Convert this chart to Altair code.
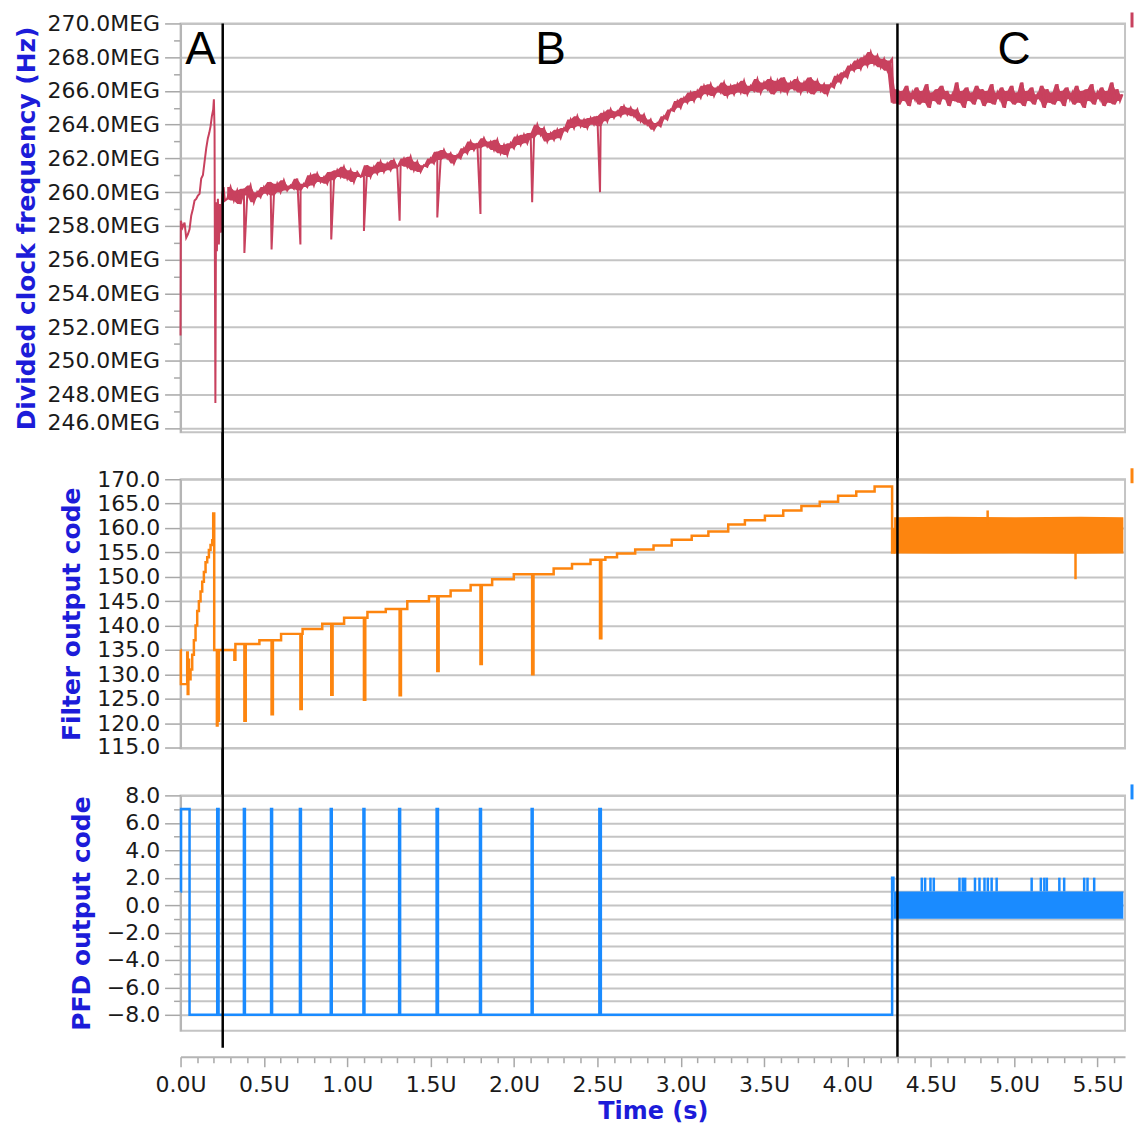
import altair as alt
import pandas as pd

# ---------------- data ----------------
region_t = [0.253, 4.30]                 # black separators between A/B/C
letters = ["A", "B", "C"]
letters_t = [0.12, 2.22, 5.0]
letters_v = [267.6, 267.6, 267.6]

# common re-lock spike times (U = microseconds)
spike_t = [0.383, 0.546, 0.719, 0.904, 1.100, 1.314, 1.540, 1.799, 2.109, 2.516]
red_dip_v = [256.4, 256.6, 256.9, 257.2, 257.7, 258.3, 258.5, 258.7, 259.4, 260.0]

# Divided clock frequency (MHz) -- region A
red_a_t = [0.000, 0.002, 0.012, 0.024, 0.034, 0.044, 0.054, 0.064, 0.074, 0.084,
           0.094, 0.104, 0.114, 0.124, 0.134, 0.144, 0.154, 0.164, 0.172, 0.180,
           0.188, 0.196, 0.200, 0.204, 0.206, 0.209, 0.213, 0.218, 0.224, 0.230,
           0.236, 0.242, 0.250, 0.258, 0.266]
red_a_v = [251.5, 258.3, 257.9, 258.2, 257.3, 257.5, 257.8, 258.6, 259.0, 259.5,
           259.6, 259.8, 259.9, 260.8, 261.0, 261.8, 262.6, 263.2, 263.5, 263.9,
           264.5, 264.9, 265.5, 263.7, 256.0, 247.5, 259.4, 256.5, 259.6, 256.9,
           259.3, 257.6, 259.9, 260.3, 259.5]
# region B, sampled every 0.02U from 0.28U
red_b_t0, red_b_dt = 0.28, 0.02
red_b_v = [259.6, 260.3, 259.5, 260.1, 259.3, 260.2, 259.8, 260.4, 259.4, 260.0,
           259.7, 260.3, 259.9, 260.6, 259.8, 260.5, 260.0, 260.7, 260.1, 260.4,
           260.2, 260.8, 260.1, 260.5, 260.3, 261.0, 260.4, 261.1, 260.6, 260.9,
           260.5, 261.2, 260.7, 261.3, 260.9, 261.5, 260.8, 261.3, 260.6, 261.2,
           260.9, 261.0, 261.6, 260.9, 261.5, 261.1, 261.8, 261.2, 261.7, 261.3,
           261.9, 261.4, 261.6, 262.0, 261.5, 262.1, 261.3, 261.8, 261.2, 261.6,
           261.5, 262.0, 261.7, 262.4, 261.9, 262.5, 262.0, 262.3, 261.7, 262.2,
           262.0, 262.6, 262.3, 263.0, 262.5, 262.9, 262.6, 263.2, 262.7, 263.0,
           262.5, 263.1, 262.3, 262.8, 262.2, 262.9, 262.6, 263.3, 262.8, 263.4,
           262.9, 263.5, 263.2, 264.0, 263.4, 263.8, 263.0, 263.5, 263.1, 263.7,
           263.2, 263.8, 263.6, 264.3, 263.8, 264.5, 263.9, 264.3, 263.8, 264.4,
           264.0, 264.5, 263.9, 264.7, 264.2, 264.9, 264.4, 264.8, 264.5, 265.1,
           264.6, 265.0, 264.5, 264.9, 264.2, 264.6, 264.0, 264.3, 263.7, 264.1,
           263.9, 264.5, 264.3, 264.9, 264.8, 265.4, 265.0, 265.6, 265.3, 265.9,
           265.4, 266.0, 265.6, 266.3, 265.8, 266.4, 265.7, 266.2, 265.9, 266.5,
           265.7, 266.3, 265.8, 266.4, 265.9, 266.6, 265.8, 266.3, 266.0, 266.7,
           265.9, 266.5, 266.1, 266.7, 265.8, 266.6, 266.0, 266.8, 265.9, 266.5,
           266.1, 266.7, 265.9, 266.5, 266.0, 266.8, 265.8, 266.6, 266.0, 266.4,
           265.8, 266.4, 266.2, 266.9, 266.5, 267.1, 266.8, 267.5, 267.2, 267.8,
           267.3, 268.0, 267.5, 268.3, 267.6, 268.1, 267.4, 267.9, 267.2, 267.8]
red_tail_t = [4.268, 4.276]
red_tail_v = [267.9, 265.3]
# region C, sampled every 0.015U from 4.285U
red_c_t0, red_c_dt = 4.285, 0.015
red_c_v = [265.3, 266.1, 265.2, 266.0, 265.4, 266.3, 265.1, 265.9, 265.5, 266.2,
           265.2, 266.0, 265.3, 266.4, 265.0, 265.9, 265.4, 266.1, 265.2, 266.3,
           265.5, 266.0, 265.1, 265.8, 265.4, 266.5, 265.3, 266.0, 265.0, 266.2,
           265.4, 265.9, 265.2, 266.3, 265.5, 266.1, 265.1, 266.0, 265.3, 266.4,
           265.2, 265.9, 265.5, 266.2, 265.0, 266.0, 265.4, 266.3, 265.2, 265.9,
           265.3, 266.5, 265.1, 266.0, 265.4, 266.2, 265.2, 265.8, 265.5, 266.3,
           265.0, 266.1, 265.3, 265.9, 265.2, 266.4, 265.4, 266.0, 265.1, 266.2,
           265.5, 265.9, 265.2, 266.3, 265.3, 266.0, 265.0, 266.1, 265.4, 266.4,
           265.2, 265.9, 265.5, 266.2, 265.1, 266.0, 265.3, 266.5, 265.2, 266.1,
           265.4, 265.8]

# Filter output code (step-after samples)
orange_t = [0.000, 0.002, 0.040, 0.043, 0.047, 0.051, 0.060, 0.070, 0.080, 0.090,
            0.100, 0.110, 0.120, 0.130, 0.140, 0.150, 0.160, 0.170, 0.180, 0.190,
            0.196, 0.202, 0.218, 0.222, 0.226, 0.230,
            0.323, 0.329, 0.383, 0.391, 0.473, 0.546, 0.554, 0.603, 0.719, 0.727,
            0.732, 0.850, 0.904, 0.912, 0.981, 1.100, 1.108, 1.121, 1.231, 1.314,
            1.322, 1.360, 1.490, 1.540, 1.548, 1.620, 1.740, 1.799, 1.807, 1.869,
            1.999, 2.109, 2.117, 2.238, 2.348, 2.459, 2.516, 2.524, 2.548, 2.618,
            2.727, 2.837, 2.946, 3.066, 3.166, 3.285, 3.385, 3.505, 3.615, 3.724,
            3.834, 3.944, 4.053, 4.163, 4.268, 4.280]
orange_v = [135, 128, 134.5, 126, 133, 129, 131, 134, 137, 140,
            143, 145, 147, 149, 151, 153, 154, 155.5, 156.5, 157.5,
            163, 135, 119.5, 135, 120.5, 135,
            133, 136.2, 120.5, 136.2, 137.0, 121.8, 137.0, 138.3, 122.9, 138.3,
            139.3, 140.4, 125.8, 140.4, 141.6, 124.8, 141.6, 142.8, 143.4, 125.7,
            143.4, 145.0, 146.0, 130.7, 146.0, 147.2, 148.3, 132.1, 148.3, 149.5,
            150.5, 130.0, 150.5, 151.7, 152.6, 153.5, 137.4, 153.5, 154.0, 154.8,
            155.6, 156.4, 157.6, 158.4, 159.3, 160.7, 161.6, 162.5, 163.6, 164.5,
            165.4, 166.6, 167.5, 168.5, 155.0, 160.0]
orange_band_t = [4.280, 4.600, 5.000, 5.400, 5.655]
orange_band_lo = [154.8, 154.7, 154.8, 154.7, 154.8]
orange_band_hi = [162.2, 162.3, 162.2, 162.3, 162.2]
orange_c_spike_t = [4.841, 5.368]
orange_c_spike_from = [161.0, 155.0]
orange_c_spike_to = [163.6, 149.5]

# PFD output code (step-after samples)
blue_t = [0.000, 0.003, 0.054, 0.220, 0.228, 0.380, 0.386, 0.543, 0.549, 0.716,
          0.722, 0.901, 0.907, 1.097, 1.103, 1.311, 1.317, 1.536, 1.544, 1.796,
          1.802, 2.106, 2.112, 2.512, 2.521, 4.268, 4.276]
blue_v = [1, 7, -8, 7, -8, 7, -8, 7, -8, 7,
          -8, 7, -8, 7, -8, 7, -8, 7, -8, 7,
          -8, 7, -8, 7, -8, 2, 1]
blue_band_t = [4.276, 5.655]
blue_band_lo = [-1.0, -1.0]
blue_band_hi = [1.0, 1.0]
blue_up_t = [4.446, 4.466, 4.498, 4.518, 4.672, 4.692, 4.706, 4.765, 4.792, 4.822,
             4.842, 4.865, 4.895, 5.105, 5.160, 5.181, 5.196, 5.271, 5.300, 5.420,
             5.440, 5.480]

# axis tick values
x_ticks = [round(i * 0.1, 1) for i in range(57)]
y1_ticks = list(range(246, 271))
y2_ticks = [115, 120, 125, 130, 135, 140, 145, 150, 155, 160, 165, 170]
y3_ticks = list(range(-8, 9))

# ---------------- styling ----------------
RED, ORANGE, BLUE = "#c8415e", "#fd850f", "#1a8bff"
TBLUE = "#1c1cd9"
GRID = "#c4c4c4"
FONT = "DejaVu Sans"
W, H1, H2, H3 = 947, 410, 270, 236
XMAX = 5.665

xscale = alt.Scale(domain=[0, XMAX], nice=False, zero=False)
half = "abs(datum.value*2 - round(datum.value*2)) < 0.001"

panel_xaxis = alt.Axis(
    values=x_ticks, tickCount=500, labels=False, title=None, orient="bottom",
    grid=True, gridColor=GRID, gridWidth=2,
    gridOpacity={"condition": {"test": half, "value": 1}, "value": 0},
    tickSize={"condition": {"test": half, "value": 7}, "value": 4},
    tickColor="#a8a8a8", tickWidth=1.5, domainColor="#b5b5b5", domainWidth=2,
)
time_axis = alt.Axis(
    values=x_ticks, tickCount=500, orient="bottom", offset=26, grid=False,
    labelExpr="(abs(datum.value*2 - round(datum.value*2)) < 0.001) ? format(datum.value, '.1f') + 'U' : ''",
    labelFont=FONT, labelFontSize=22, labelColor="#1a1a1a", labelPadding=8,
    labelFlush=False, labelOverlap=False,
    tickSize={"condition": {"test": half, "value": 10}, "value": 6},
    tickColor="#a8a8a8", tickWidth=1.5, domainColor="#b5b5b5", domainWidth=2,
    title="Time (s)", titleFont=FONT, titleFontSize=24, titleFontWeight="bold",
    titleColor=TBLUE, titlePadding=4,
)


def yaxis(title, values, label_expr, grid_test, major_test, offset_test, title_pad):
    return alt.Axis(
        values=values, tickCount=500, title=title, titleFont=FONT, titleFontSize=25,
        titleFontWeight="bold", titleColor=TBLUE, titlePadding=title_pad,
        labelExpr=label_expr, labelFont=FONT, labelFontSize=22,
        labelColor="#1a1a1a", labelPadding=5, labelOverlap=False,
        labelOffset={"condition": {"test": offset_test[0], "value": offset_test[1]}, "value": 0},
        grid=True, gridColor=GRID, gridWidth=2,
        gridOpacity={"condition": {"test": grid_test, "value": 1}, "value": 0},
        tickSize={"condition": {"test": major_test, "value": 16}, "value": 7},
        tickColor="#a8a8a8", tickWidth=1.5, domainColor="#b5b5b5", domainWidth=2,
    )


y1_axis = yaxis("Divided clock frequency (Hz)", y1_ticks,
                "datum.value % 2 == 0 ? format(datum.value, '.1f') + 'MEG' : ''",
                "datum.value % 2 == 0", "datum.value % 2 == 0",
                ("datum.value == 246", -6), 8)
y2_axis = yaxis("Filter output code", y2_ticks,
                "format(datum.value, '.1f')",
                "true", "true", ("datum.value == 115", -1), 12)
y3_axis = yaxis("PFD output code", y3_ticks,
                "datum.value % 2 == 0 ? format(datum.value, '.1f') : ''",
                "true", "datum.value % 2 == 0", ("false", 0), 12)

y1_scale = alt.Scale(domain=[245.76, 270], nice=False, zero=False)
y2_scale = alt.Scale(domain=[114.8, 170], nice=False, zero=False)
y3_scale = alt.Scale(domain=[-9.16, 8], nice=False, zero=False)

# ---------------- tables ----------------
red_b_rows = [(round(red_b_t0 + i * red_b_dt, 4), v) for i, v in enumerate(red_b_v)]
red_c_rows = [(round(red_c_t0 + i * red_c_dt, 4), v) for i, v in enumerate(red_c_v)]
red_rows = list(zip(red_a_t, red_a_v)) + red_b_rows + list(zip(spike_t, red_dip_v))
red_rows += list(zip(red_tail_t, red_tail_v)) + red_c_rows
red_df = pd.DataFrame(red_rows, columns=["t", "v"]).sort_values("t").reset_index(drop=True)
red_env_df = pd.DataFrame(red_b_rows + red_c_rows, columns=["t", "v"])

orange_df = pd.DataFrame({"t": orange_t, "v": orange_v})
orange_band_df = pd.DataFrame({"t": orange_band_t, "lo": orange_band_lo, "hi": orange_band_hi})
orange_sp_df = pd.DataFrame({"t": orange_c_spike_t, "a": orange_c_spike_from, "b": orange_c_spike_to})
blue_df = pd.DataFrame({"t": blue_t, "v": blue_v})
blue_band_df = pd.DataFrame({"t": blue_band_t, "lo": blue_band_lo, "hi": blue_band_hi})
blue_up_df = pd.DataFrame({"t": blue_up_t, "a": [1.0] * len(blue_up_t), "b": [2.0] * len(blue_up_t)})
region_df = pd.DataFrame({"t": region_t})
letters_df = pd.DataFrame({"t": letters_t, "v": letters_v, "s": letters})
one = pd.DataFrame({"k": [0]})


def marker(color):
    return alt.Chart(one).mark_rule(color=color, strokeWidth=3).encode(
        x=alt.value(W + 7), y=alt.value(-11), y2=alt.value(4))


def vlines(df, top, bottom):
    return alt.Chart(df).mark_rule(color="black", strokeWidth=2.5).encode(
        x=alt.X("t:Q", scale=xscale, axis=None), y=alt.value(top), y2=alt.value(bottom))


# ---------------- panel 1 ----------------
p1 = alt.layer(
    alt.Chart(red_env_df).transform_window(
        lo="min(v)", hi="max(v)", frame=[0, 1], sort=[alt.SortField("t")]
    ).mark_area(color=RED, opacity=1).encode(
        x=alt.X("t:Q", scale=xscale, axis=panel_xaxis),
        y=alt.Y("lo:Q", scale=y1_scale, axis=y1_axis), y2="hi:Q"),
    alt.Chart(red_df).mark_line(color=RED, strokeWidth=2).encode(
        x=alt.X("t:Q", scale=xscale, axis=panel_xaxis),
        y=alt.Y("v:Q", scale=y1_scale, axis=y1_axis)),
    alt.Chart(letters_df).mark_text(font="Liberation Sans", fontSize=46, color="black",
                                    baseline="alphabetic", align="center").encode(
        x=alt.X("t:Q", scale=xscale), y=alt.Y("v:Q", scale=y1_scale), text="s:N"),
    vlines(region_df, 0, H1 + 47),
    marker(RED),
).properties(width=W, height=H1)

# ---------------- panel 2 ----------------
p2 = alt.layer(
    alt.Chart(orange_band_df).mark_area(color=ORANGE, opacity=1).encode(
        x=alt.X("t:Q", scale=xscale, axis=panel_xaxis),
        y=alt.Y("lo:Q", scale=y2_scale, axis=y2_axis), y2="hi:Q"),
    alt.Chart(orange_df).mark_line(color=ORANGE, strokeWidth=2.5, interpolate="step-after").encode(
        x=alt.X("t:Q", scale=xscale, axis=panel_xaxis),
        y=alt.Y("v:Q", scale=y2_scale, axis=y2_axis)),
    alt.Chart(orange_sp_df).mark_rule(color=ORANGE, strokeWidth=2.5).encode(
        x=alt.X("t:Q", scale=xscale), y=alt.Y("a:Q", scale=y2_scale), y2="b:Q"),
    vlines(region_df, -47, H2 + 47),
    marker(ORANGE),
).properties(width=W, height=H2)

# ---------------- panel 3 ----------------
p3_data = alt.layer(
    alt.Chart(blue_band_df).mark_area(color=BLUE, opacity=1).encode(
        x=alt.X("t:Q", scale=xscale, axis=panel_xaxis),
        y=alt.Y("lo:Q", scale=y3_scale, axis=y3_axis), y2="hi:Q"),
    alt.Chart(blue_df).mark_line(color=BLUE, strokeWidth=2.5, interpolate="step-after").encode(
        x=alt.X("t:Q", scale=xscale, axis=panel_xaxis),
        y=alt.Y("v:Q", scale=y3_scale, axis=y3_axis)),
    alt.Chart(blue_up_df).mark_rule(color=BLUE, strokeWidth=2.5).encode(
        x=alt.X("t:Q", scale=xscale), y=alt.Y("a:Q", scale=y3_scale), y2="b:Q"),
    vlines(region_df.iloc[[0]], -47, H3 + 17),
    vlines(region_df.iloc[[1]], -47, H3 + 26),
    marker(BLUE),
)
time_layer = alt.Chart(pd.DataFrame({"t": [0.0, XMAX]})).mark_point(opacity=0).encode(
    x=alt.X("t:Q", scale=xscale, axis=time_axis))
p3 = alt.layer(p3_data, time_layer).resolve_scale(x="independent").properties(width=W, height=H3)

chart = alt.vconcat(p1, p2, p3, spacing=47, bounds="flush").configure_view(
    stroke=GRID, strokeWidth=2
).properties(padding={"left": 5, "top": 0, "right": 0, "bottom": 0})

chart.save("out.html", embed_options={"renderer": "svg", "actions": False})
